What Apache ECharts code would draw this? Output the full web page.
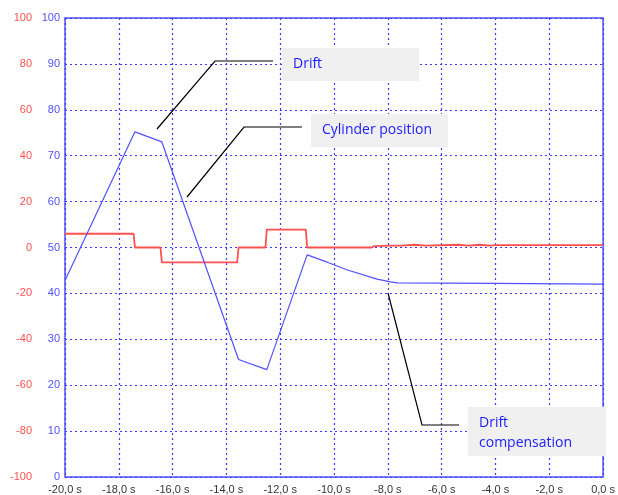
<!DOCTYPE html>
<html>
<head>
<meta charset="utf-8">
<script src="https://cdn.jsdelivr.net/npm/echarts@6/dist/echarts.min.js"></script>
<style>
  html, body { margin: 0; padding: 0; background: #fff; }
  #chart { width: 618px; height: 495px; }
</style>
</head>
<body>
<div id="chart"></div>
<script>
// time axis (s)
const timeTicks = { min: -20, max: 0, interval: 2 }

// blue trace, right scale 0..100
const blueTimes = [-20, -17.4, -16.4, -13.55, -12.5, -11.0, -10.25, -9.5, -8.4, -7.9, -7.65, -4.05, -4.0, 0]
const blueValues = [42.8, 75.2, 73.0, 25.6, 23.4, 48.4, 46.8, 45.1, 43.1, 42.5, 42.3, 42.2, 42.0, 42.0]

// red trace, left scale -100..100
const redTimes = [-20, -17.45, -17.4, -16.45, -16.4, -13.6, -13.55, -12.55, -12.5, -11.05, -11.0, -8.6, -8.5, -7.9,
  -7.5, -7.0, -6.6, -5.4, -5.0, -4.6, -4.2, -4.0, 0]
const redValues = [6, 6, 0, 0, -6.5, -6.5, 0, 0, 7.8, 7.8, 0, 0, 0.6, 0.8,
  0.8, 1.2, 0.8, 1.2, 0.8, 1.2, 0.8, 1.0, 1.0]

const blueData = blueTimes.map((t, i) => [t, blueValues[i]])
const redData = redTimes.map((t, i) => [t, redValues[i]])

const blue = '#5050ff'
const gridBlue = '#3c3cff'
const red = '#ff5050'
const labelFont = 'Liberation Sans'

const chart = echarts.init(document.getElementById('chart'))

// callout boxes with leader lines
const callout = (pts, box, lines) => {
  const out = [{
    type: 'polyline',
    shape: { points: pts },
    style: { stroke: '#000', lineWidth: 1.2, fill: null },
    z: 100
  }, {
    type: 'rect',
    shape: box,
    style: { fill: '#f0f0f0' },
    z: 100
  }]
  lines.forEach((txt, i) => {
    out.push({
      type: 'text',
      x: box.x + 11,
      y: box.y + 16 + i * 20,
      style: {
        text: txt,
        fill: '#1a1aff',
        font: '14px "Open Sans"',
        verticalAlign: 'middle'
      },
      z: 101
    })
  })
  return out
}

const option = {
  animation: false,
  grid: {
    left: 65,
    right: 10,
    top: 18,
    bottom: 17,
    show: true,
    borderColor: blue,
    borderWidth: 1.5
  },
  xAxis: {
    type: 'value',
    min: timeTicks.min,
    max: timeTicks.max,
    interval: timeTicks.interval,
    axisLine: { show: false },
    axisTick: { show: false },
    axisLabel: {
      margin: 7,
      fontSize: 11,
      fontFamily: labelFont,
      color: '#333',
      formatter: v => v.toFixed(1).replace('.', ',') + ' s'
    },
    splitLine: { lineStyle: { color: gridBlue, type: [2, 3], width: 1.2 } }
  },
  yAxis: [{
    type: 'value',
    min: 0,
    max: 100,
    interval: 10,
    position: 'left',
    axisLine: { show: false },
    axisTick: { show: false },
    axisLabel: { margin: 5, fontSize: 11, fontFamily: labelFont, color: blue },
    splitLine: { lineStyle: { color: gridBlue, type: [2, 3], width: 1.2 } }
  }, {
    type: 'value',
    min: -100,
    max: 100,
    interval: 20,
    position: 'left',
    axisLine: { show: false },
    axisTick: { show: false },
    axisLabel: { margin: 33, fontSize: 11, fontFamily: labelFont, color: red },
    splitLine: { show: false }
  }],
  series: [{
    type: 'line',
    yAxisIndex: 1,
    data: redData,
    symbol: 'none',
    lineStyle: { color: red, width: 1.8 }
  }, {
    type: 'line',
    yAxisIndex: 0,
    data: blueData,
    symbol: 'none',
    lineStyle: { color: blue, width: 1.2 }
  }],
  graphic: [
    ...callout([[157, 129], [215, 61], [273, 61]], { x: 282, y: 48, width: 137, height: 33 }, ['Drift']),
    ...callout([[187, 197], [244, 127], [302, 127]], { x: 311, y: 114, width: 137, height: 33 }, ['Cylinder position']),
    ...callout([[388, 293], [422, 425], [459, 425]], { x: 468, y: 407, width: 138, height: 49 }, ['Drift', 'compensation'])
  ]
}
chart.setOption(option)
</script>
</body>
</html>
